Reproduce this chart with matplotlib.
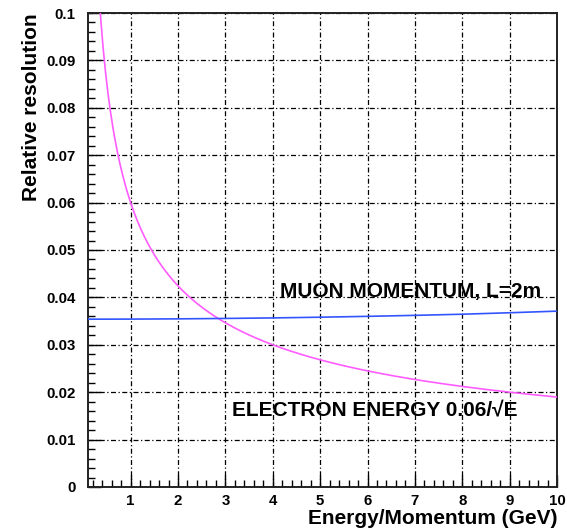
import numpy as np
import matplotlib
matplotlib.use("Agg")
import matplotlib.pyplot as plt
from matplotlib.ticker import MultipleLocator

plt.rcParams['font.family'] = ['Liberation Sans', 'DejaVu Sans']
plt.rcParams['font.weight'] = 'bold'

# electron energy resolution: stochastic term from the label
electron_coeff = 0.06
electron_energy = np.linspace(0.1, 10, 400)

# muon momentum resolution, L = 2m
muon_momentum = [0.1, 1, 2, 3, 4, 5, 6, 7, 8, 9, 10]
muon_resolution = [0.03540, 0.03542, 0.03547, 0.03556, 0.03567, 0.03582,
                   0.03600, 0.03621, 0.03645, 0.03676, 0.03710]

fig = plt.figure(figsize=(5.67, 5.31), dpi=100)
ax = fig.add_axes([0.1552, 0.0829, 0.8272, 0.8926])

ax.plot(electron_energy, electron_coeff / np.sqrt(electron_energy),
        color='#ff5cff', lw=1.2, zorder=3)
ax.plot(muon_momentum, muon_resolution, color='#3355ff', lw=1.2, zorder=3)

ax.set_xlim(0.1, 10)
ax.set_ylim(0, 0.1)
ax.xaxis.set_major_locator(MultipleLocator(1))
ax.xaxis.set_minor_locator(MultipleLocator(0.2))
ax.yaxis.set_major_locator(MultipleLocator(0.01))
ax.yaxis.set_minor_locator(MultipleLocator(0.002))
ax.set_yticks(np.arange(0, 0.1001, 0.01))
ax.set_yticklabels(['0', '0.01', '0.02', '0.03', '0.04', '0.05',
                    '0.06', '0.07', '0.08', '0.09', '0.1'])
ax.set_xticks(range(1, 11))

ax.grid(True, which='major', color='black', lw=0.9, ls=(0, (4, 2, 1, 2)))
ax.tick_params(which='both', direction='in', top=False, right=False,
               labelsize=10.8, colors='black')
ax.tick_params(which='major', length=9, width=1)
ax.tick_params(which='minor', length=5, width=1)
ax.tick_params(axis='y', pad=9)
ax.tick_params(axis='x', pad=5)
for s in ax.spines.values():
    s.set_linewidth(1.4)
    s.set_color('#222222')

ax.set_xlabel('Energy/Momentum (GeV)', fontsize=15, fontweight='bold',
              loc='right', labelpad=1)
ax.set_ylabel('Relative resolution', fontsize=15, fontweight='bold',
              loc='top', labelpad=4)

ax.text(4.15, 0.0401, 'MUON MOMENTUM, L=2m', fontsize=15,
        fontweight='bold', va='baseline', ha='left')
ax.text(3.15, 0.0148, 'ELECTRON ENERGY 0.06/\u221aE', fontsize=15,
        fontweight='bold', va='baseline', ha='left')

fig.savefig('out.png', dpi=100)
